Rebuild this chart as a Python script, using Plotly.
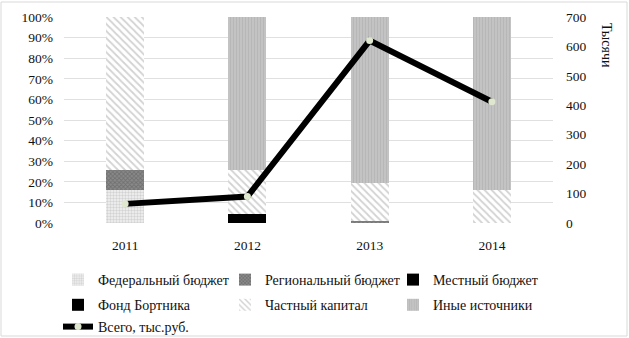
import plotly.graph_objects as go

years = ["2011", "2012", "2013", "2014"]
federal = [0.160, 0.0, 0.0, 0.0]
regional = [0.097, 0.0, 0.012, 0.0]
local = [0.0, 0.0, 0.0, 0.0]
bortnik = [0.0, 0.043, 0.0, 0.0]
private = [0.743, 0.214, 0.184, 0.160]
other = [0.0, 0.743, 0.804, 0.840]
total = [65, 90, 620, 412]

names = ["Федеральный бюджет", "Региональный бюджет", "Местный бюджет",
         "Фонд Бортника", "Частный капитал", "Иные источники"]
total_name = "Всего, тыс.руб."
series = [federal, regional, local, bortnik, private, other]
patterns = [
    dict(shape=".", fgcolor="#b0b0b0", bgcolor="#f4f4f4", size=3, solidity=0.5),
    dict(shape="x", fgcolor="#555555", bgcolor="#8a8a8a", size=3, solidity=0.5),
    dict(shape="", fgcolor="#000000", bgcolor="#000000"),
    dict(shape="", fgcolor="#000000", bgcolor="#000000"),
    dict(shape="\\", fgcolor="#a6a6a6", bgcolor="#ffffff", size=5, solidity=0.35),
    dict(shape="|", fgcolor="#aaaaaa", bgcolor="#c4c4c4", size=3, solidity=0.4),
]
colors = ["#f4f4f4", "#8a8a8a", "#000000", "#000000", "#ffffff", "#c4c4c4"]
# one legend per column (rightmost drawn first), plus one for the line
legend_col = ["legend4", "legend3", "legend", "legend4", "legend3", "legend"]

FONT = "Liberation Serif"
TXT = "#111111"
fig = go.Figure()
for i, (n, s, p, c, lg) in enumerate(zip(names, series, patterns, colors, legend_col)):
    fig.add_trace(go.Bar(x=years, y=s, name=n, legend=lg, legendgroup=f"g{i}",
                         marker=dict(color=c, pattern=p, line=dict(width=0)),
                         yaxis="y"))
fig.add_trace(go.Scatter(x=years, y=total, name=total_name, yaxis="y2", legend="legend2",
                         legendgroup="g6", mode="lines+markers",
                         line=dict(color="#000000", width=6),
                         marker=dict(color="#dfe8cf", size=7, line=dict(width=0))))

W, H = 629, 338
L, R, T, B = 64, 76, 17, 115
pw, ph = W - L - R, H - T - B

def px_x(x):
    return (x - L) / pw

def px_y(y):
    return (H - B - y) / ph

def leg(xpx, ypx):
    return dict(orientation="v", x=px_x(xpx), xanchor="left", y=px_y(ypx), yanchor="top",
                traceorder="grouped", tracegroupgap=4, font=dict(size=14, family=FONT, color=TXT),
                bgcolor="rgba(0,0,0,0)", borderwidth=0)

fig.update_layout(
    width=W, height=H,
    margin=dict(l=L, r=R, t=T, b=B, pad=0, autoexpand=False),
    paper_bgcolor="white", plot_bgcolor="white",
    barmode="stack", bargap=0.69,
    font=dict(family=FONT, size=13.5, color=TXT),
    xaxis=dict(showgrid=False, showline=False, ticks="", tickfont=dict(size=13.5),
               ticklabelstandoff=12),
    yaxis=dict(range=[0, 1], dtick=0.1, tickformat=".0%", showgrid=True,
               gridcolor="#e0e0e0", gridwidth=1, zeroline=False, showline=False,
               ticks="", ticklen=0, tickfont=dict(size=13.5), ticklabelstandoff=10),
    yaxis2=dict(range=[0, 700], dtick=100, overlaying="y", side="right",
                showgrid=False, zeroline=False, showline=False, ticks="",
                tickfont=dict(size=13.5), ticklabelstandoff=12),
    showlegend=True,
    legend=leg(393, 264),
    legend2=leg(58, 311),
    legend3=leg(225, 264),
    legend4=leg(58, 264),
)
fig.add_annotation(text="Тысячи", textangle=90, xref="paper", yref="paper",
                   x=px_x(607), y=px_y(45), xanchor="center", yanchor="middle",
                   showarrow=False, font=dict(size=14))
fig.add_shape(type="rect", xref="paper", yref="paper",
              x0=px_x(1), x1=px_x(627), y0=px_y(336), y1=px_y(2),
              line=dict(color="#d9d9d9", width=1))

fig.write_html("out.html")
